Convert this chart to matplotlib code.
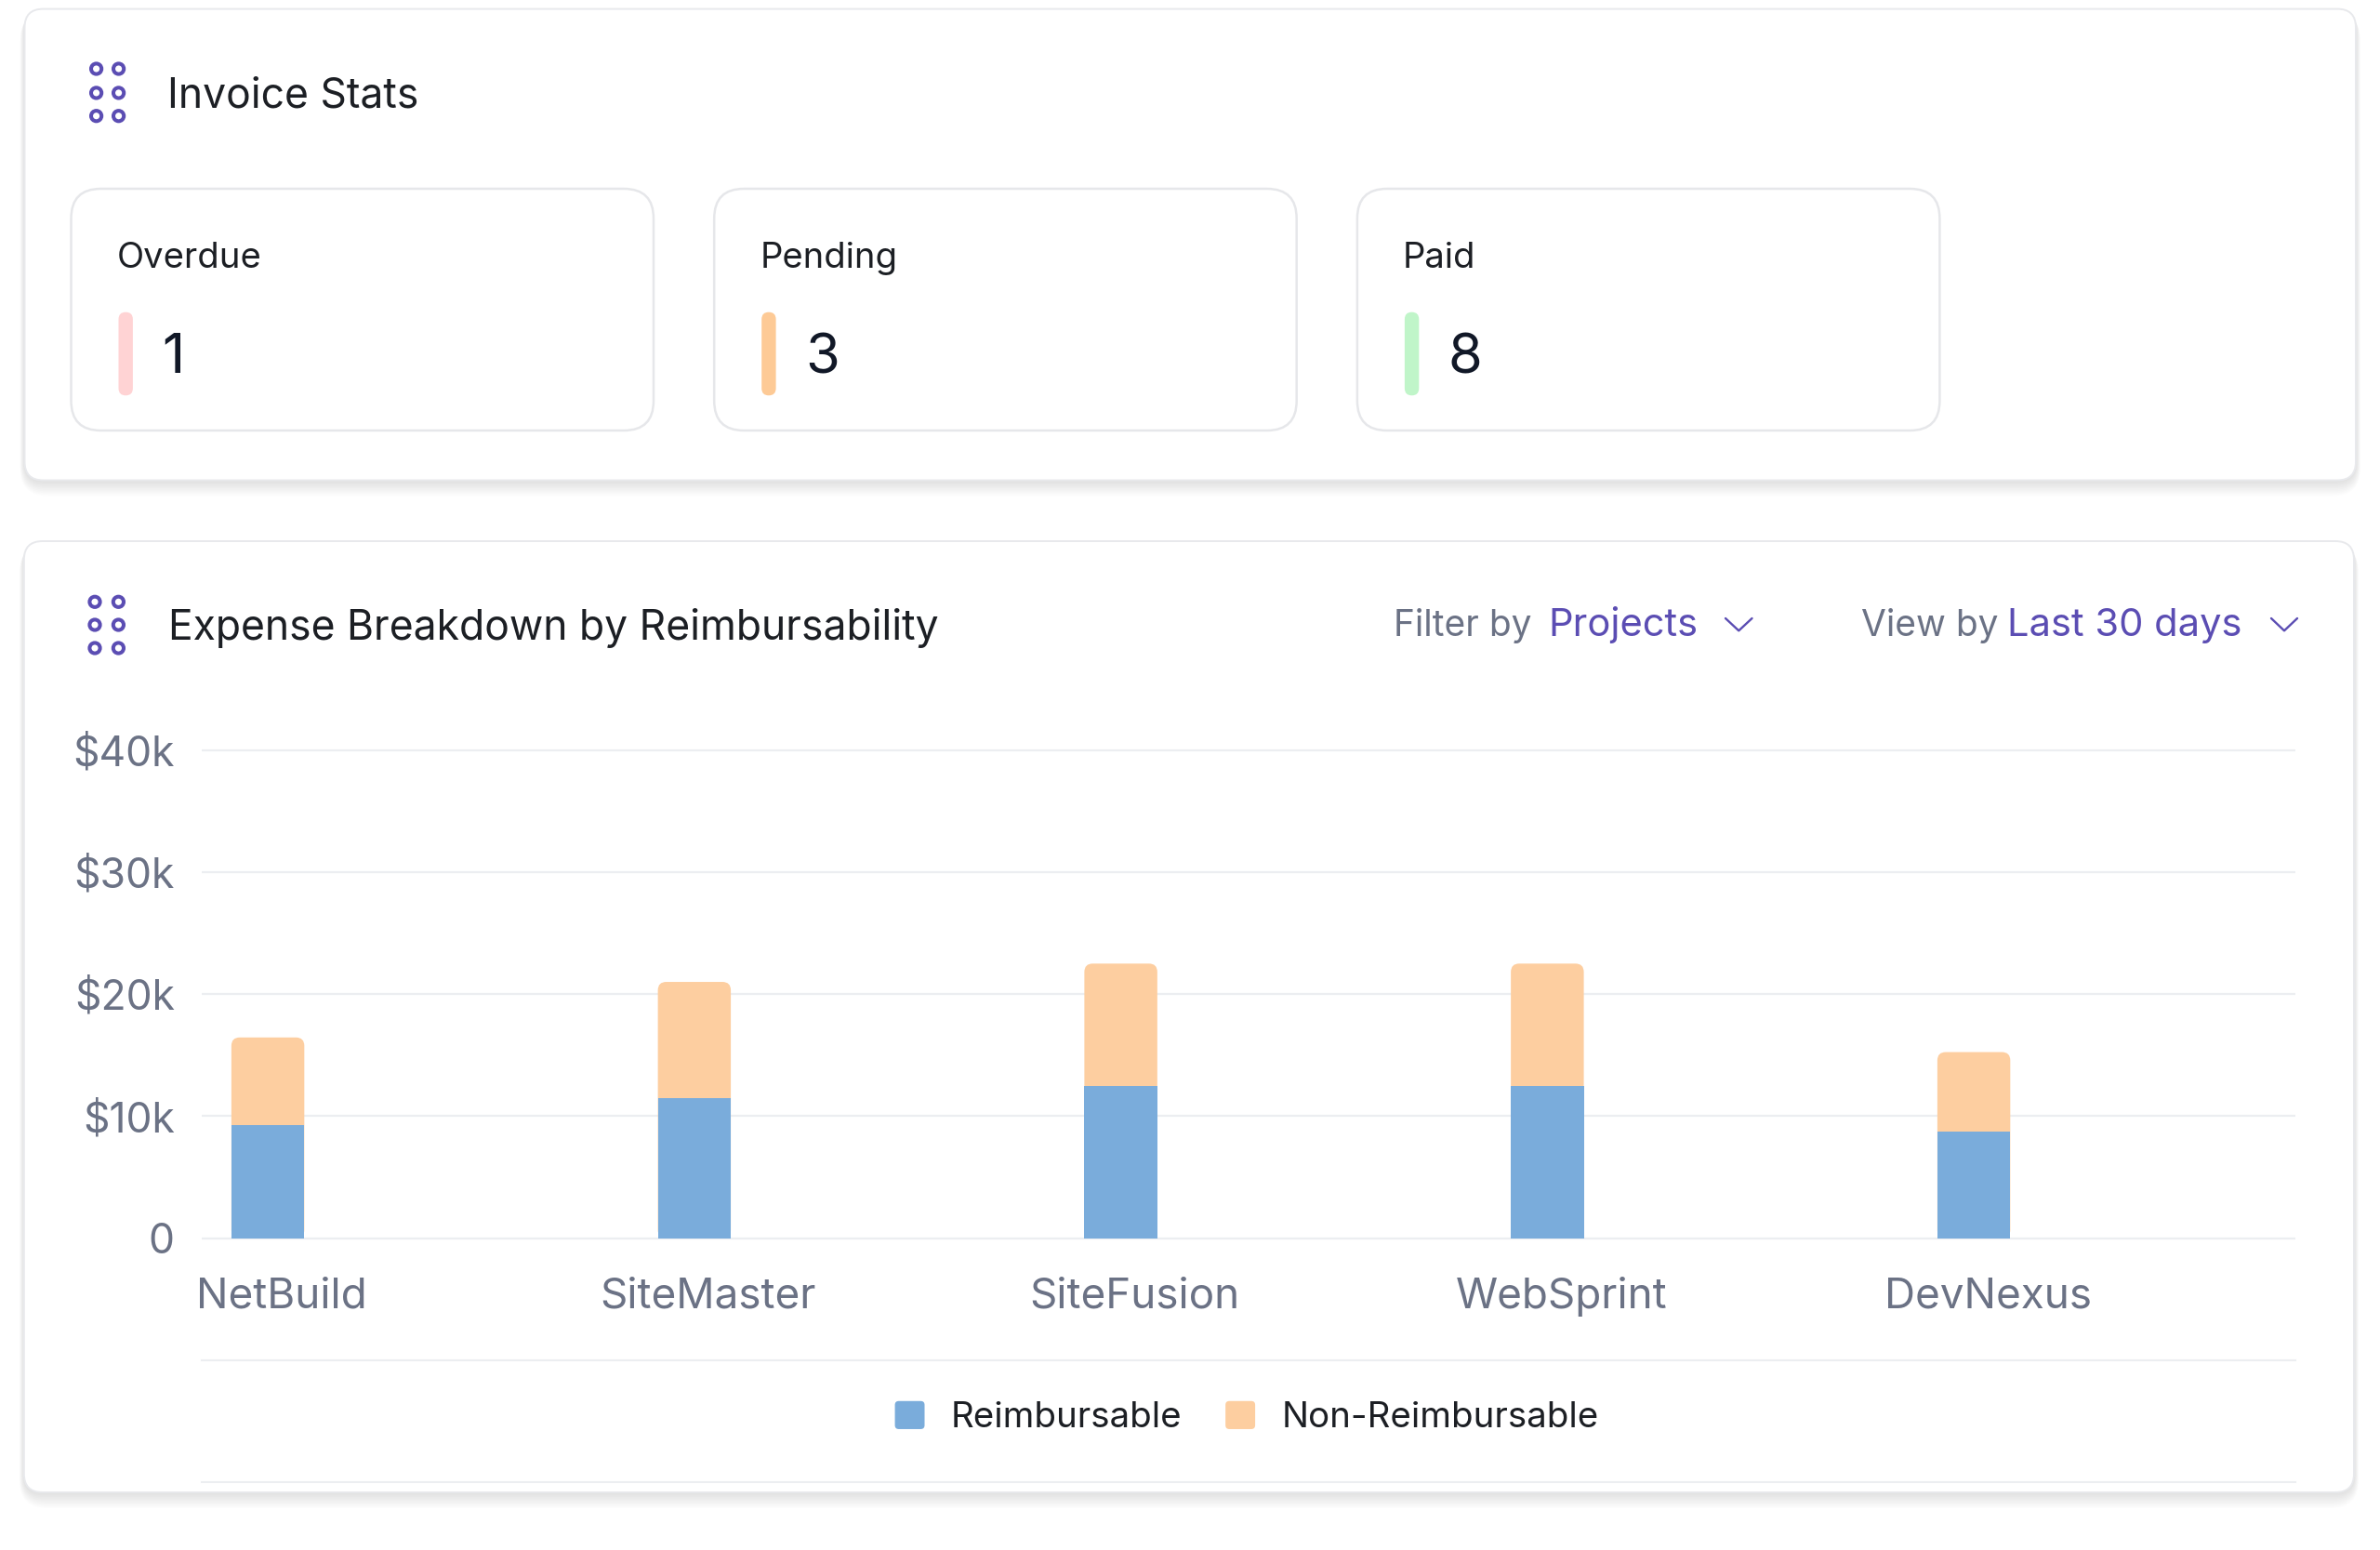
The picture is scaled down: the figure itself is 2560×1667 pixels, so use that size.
import numpy as np
import matplotlib
matplotlib.use('Agg')
import matplotlib.pyplot as plt
from matplotlib import transforms
from matplotlib.patches import FancyBboxPatch, Patch, Circle
from matplotlib.legend_handler import HandlerPatch
from matplotlib.ticker import FuncFormatter

plt.rcParams['font.family'] = ['Inter', 'DejaVu Sans']

# invoice stats tiles
stat_labels = ['Overdue', 'Pending', 'Paid']
stat_counts = [1, 3, 8]
stat_colors = ['#ffd3d4', '#fdca96', '#c0f5c9']

# expense breakdown (stacked bars)
projects = ['NetBuild', 'SiteMaster', 'SiteFusion', 'WebSprint', 'DevNexus']
reimbursable = [9250, 11500, 12500, 12500, 8750]
non_reimbursable = [7200, 9500, 10000, 10000, 6500]
y_ticks = [0, 10000, 20000, 30000, 40000]
series_names = ['Reimbursable', 'Non-Reimbursable']

BLUE = '#7aacdb'
PEACH = '#fdcea0'
PURPLE = '#5b4db3'
INK = '#1c1f24'
GREY = '#6b7285'
LINE = '#eceef1'

W, H = 2560, 1667
fig = plt.figure(figsize=(W / 100, H / 100), dpi=100)
fig.patch.set_facecolor('white')

# background axes in pixel units (y down)
bg = fig.add_axes([0, 0, 1, 1])
bg.set_xlim(0, W)
bg.set_ylim(H, 0)
bg.axis('off')


def card(x0, y0, x1, y1, r=20):
    # soft shadow, mostly under the card
    for k in range(1, 11):
        bg.add_patch(FancyBboxPatch((x0 - k * 0.5, y0 + k * 0.4), x1 - x0 + k * 1.0, y1 - y0 + k * 1.3,
                                    boxstyle=f'round,pad=0,rounding_size={r + k}',
                                    fc='#1f2937', ec='none', alpha=0.012, zorder=0))
    bg.add_patch(FancyBboxPatch((x0, y0), x1 - x0, y1 - y0,
                                boxstyle=f'round,pad=0,rounding_size={r}',
                                fc='white', ec='#e8e9ec', lw=1.4, zorder=1))


def dots_icon(xs, ys):
    for cy in ys:
        for cx in xs:
            bg.add_patch(Circle((cx, cy), 5.6, fill=False, ec=PURPLE, lw=2.9, zorder=3))


def chevron(x0, x1, y0, y1):
    bg.plot([x0, (x0 + x1) / 2, x1], [y0, y1, y0], color=PURPLE, lw=1.7,
            solid_capstyle='round', solid_joinstyle='round', zorder=3)


# ---- top card: invoice stats
card(26.5, 9.6, 2534, 516.5)
dots_icon([103.6, 127.6], [74, 99.9, 124.7])
bg.text(180, 115.4, 'Invoice Stats', fontsize=32, color=INK, va='baseline', zorder=3)

tile_x0, tile_step, tile_w = 76.5, 691.7, 626.5
for i, (lab, n, c) in enumerate(zip(stat_labels, stat_counts, stat_colors)):
    x = tile_x0 + i * tile_step
    bg.add_patch(FancyBboxPatch((x, 203), tile_w, 260, boxstyle='round,pad=0,rounding_size=32',
                                fc='white', ec='#e6e7ea', lw=1.8, zorder=2))
    bg.text(x + 49, 287.5, lab, fontsize=27.5, color=INK, va='baseline', zorder=3)
    bg.add_patch(FancyBboxPatch((x + 51, 335.7), 15.4, 89.6, boxstyle='round,pad=0,rounding_size=7.7',
                                fc=c, ec='none', zorder=3))
    bg.text(x + 98, 401, str(n), fontsize=43, color='#111827', va='baseline', zorder=3)

# ---- bottom card: expense breakdown
card(25.8, 582, 2532, 1605)
dots_icon([102, 127.4], [647.3, 672, 697])
bg.text(181, 688.2, 'Expense Breakdown by Reimbursability', fontsize=32, color=INK,
        va='baseline', zorder=3)
bg.text(1499, 684, 'Filter by', fontsize=28, color=GREY, va='baseline', zorder=3)
bg.text(1665, 684, 'Projects', fontsize=30, color=PURPLE, va='baseline', zorder=3)
chevron(1856, 1884.5, 665, 678.3)
bg.text(2002, 684, 'View by', fontsize=28, color=GREY, va='baseline', zorder=3)
bg.text(2159, 684, 'Last 30 days', fontsize=30, color=PURPLE, va='baseline', zorder=3)
chevron(2443, 2471, 665, 678.3)

# separators below tick labels and below legend
bg.plot([217, 2469], [1462.7, 1462.7], color=LINE, lw=1.5, zorder=2)
bg.plot([217, 2469], [1594, 1594], color=LINE, lw=1.5, zorder=2)

# chart axes: 0 at y=1331.7px, 40k at y=806.6px
ax_top, ax_bot = 801.35, 1336.95
ax = fig.add_axes([217 / W, 1 - ax_bot / H, 2252 / W, (ax_bot - ax_top) / H])
ax.patch.set_alpha(0)
x = np.arange(len(projects))
totals = np.add(reimbursable, non_reimbursable)
bar_w = 0.171
xlim = (-0.155, 4.754)
ylim = (-400, 40400)

# rounded-top stacked bars: full peach bar behind, blue segment on top
dx = (xlim[1] - xlim[0]) / 2252
dy = (ylim[1] - ylim[0]) / (ax_bot - ax_top)
r_px = 9
tops = ax.bar(x, totals, width=bar_w, color=PEACH, zorder=2)
for rect in tops:
    ax.add_patch(FancyBboxPatch((rect.get_x(), rect.get_y()), rect.get_width(), rect.get_height(),
                                boxstyle=f'round,pad=0,rounding_size={r_px * dx}',
                                mutation_aspect=dy / dx, fc=PEACH, ec='none', zorder=2))
    rect.set_visible(False)
ax.bar(x, reimbursable, width=bar_w, color=BLUE, zorder=3)

ax.set_xlim(*xlim)
ax.set_ylim(*ylim)
ax.set_yticks(y_ticks)
ax.yaxis.set_major_formatter(FuncFormatter(lambda v, p: '0' if v == 0 else f'${v / 1000:.0f}k'))
ax.set_xticks(x, projects)
ax.grid(axis='y', color=LINE, lw=1.6)
ax.set_axisbelow(True)
for s in ax.spines.values():
    s.set_visible(False)
ax.tick_params(axis='y', length=0, labelsize=32, labelcolor=GREY, pad=21)
ax.tick_params(axis='x', length=0, labelsize=33, labelcolor=GREY, pad=26)
offset = transforms.ScaledTranslation(15 / 100, 0, fig.dpi_scale_trans)
for lab in ax.get_xticklabels():
    lab.set_transform(lab.get_transform() + offset)


def rounded_square(legend, orig_handle, xdescent, ydescent, width, height, fontsize):
    return FancyBboxPatch((-xdescent, -ydescent), width, height,
                          boxstyle='round,pad=0,rounding_size=3')


handles = [Patch(facecolor=BLUE, edgecolor='none', label=series_names[0]),
           Patch(facecolor=PEACH, edgecolor='none', label=series_names[1])]
leg = ax.legend(handles=handles, loc='center', bbox_to_anchor=(1341, 1525),
                bbox_transform=bg.transData, ncol=2, frameon=False, fontsize=27.7,
                handlelength=0.83, handleheight=0.83, handletextpad=0.73,
                columnspacing=1.22, borderpad=0,
                handler_map={Patch: HandlerPatch(patch_func=rounded_square)})
for t in leg.get_texts():
    t.set_color(INK)

fig.savefig('out.png', dpi=100, facecolor='white')
